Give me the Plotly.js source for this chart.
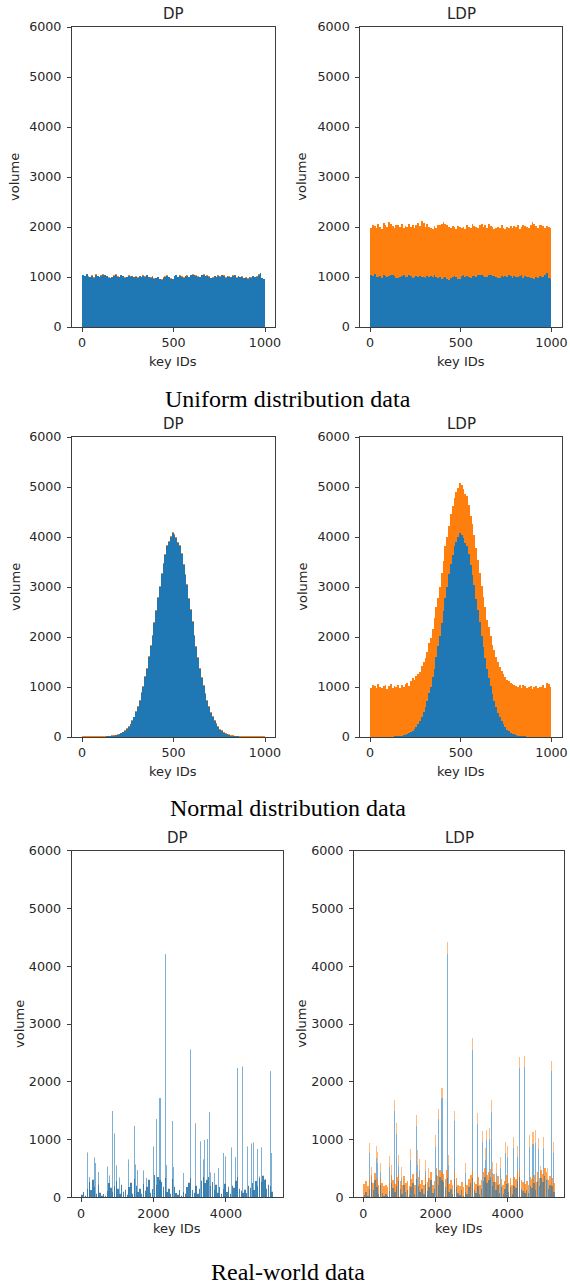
<!DOCTYPE html>
<html>
<head>
<meta charset="utf-8">
<script src="https://cdn.plot.ly/plotly-3.0.1.min.js"></script>
<style>
html,body{margin:0;padding:0;background:#fff;}
#chart{width:570px;height:1284px;}
.point path { shape-rendering: crispEdges; }
</style>
</head>
<body>
<div id="chart"></div>
<script>
// ---------------- DATA ----------------
// Uniform / Normal data: key IDs 0..999 grouped in bins of 10 keys
const binCount = 100;
const binSize = 10;

const uniformTrue = [1040,1020,1060,1010,1000,1030,990,1050,1020,1000,
 1030,1050,1040,1020,990,980,1000,1030,1050,1010,
 1000,1040,1020,990,1000,1030,1010,1020,1000,1010,
 990,1020,1000,1030,1010,1040,1000,990,1010,970,
 980,1000,960,950,990,1010,1030,1000,970,960,
 1020,1040,1000,1030,1010,990,1020,1030,1000,1040,
 1050,1040,1030,1010,1000,1040,1050,1020,1030,1010,
 980,990,1020,1000,1030,1010,1040,1030,990,1020,
 1010,1000,1030,1040,990,1020,1000,1010,980,990,
 970,1000,990,1020,1000,1010,1050,1080,980,960];

const uniformDPNoisy = [1050,1015,1070,1020,995,1045,1000,1055,1030,1010,
 1040,1055,1050,1030,1000,990,1010,1040,1055,1020,
 1005,1050,1030,1000,1010,1040,1015,1030,1010,1020,
 1000,1030,1005,1040,1020,1045,1010,1000,1020,980,
 990,1010,970,960,1000,1020,1040,1010,980,970,
 1030,1045,1010,1040,1020,1000,1030,1040,1010,1050,
 1060,1045,1040,1020,1010,1050,1055,1030,1040,1020,
 990,1000,1030,1010,1040,1020,1050,1040,1000,1030,
 1020,1010,1040,1050,1000,1030,1010,1020,990,1000,
 980,1010,1000,1030,1010,1020,1060,1090,990,970];

const uniformLDPNoisy = [1980,2050,2030,1990,2070,2010,1960,2080,2040,2000,
 2100,2060,2020,1980,2050,2040,2000,2070,1990,2030,
 2010,2060,2000,2040,1980,2050,2090,2020,2130,2080,
 2010,2060,2000,1990,1970,2030,1980,2050,2040,2070,
 2110,2060,2040,2000,1990,2020,2000,1960,2030,2010,
 1980,2000,1960,2040,2010,1990,2060,2030,2000,1980,
 2050,2070,2000,2040,1990,2060,2030,2000,1970,1990,
 2010,1980,2040,1990,1960,2000,1990,2020,1990,2030,
 2000,2040,1970,2010,2050,2020,2000,1990,2040,2100,
 2060,2020,1990,2040,2050,2020,1980,2030,2000,1990];

const normalTrue = [2,3,1,4,2,5,3,4,6,5,
 7,8,10,12,14,18,22,27,35,45,
 55,72,95,125,160,205,255,330,400,500,
 610,720,880,1010,1200,1370,1600,1820,2030,2280,
 2520,2790,3010,3260,3470,3640,3820,3910,4000,4080,
 4050,3990,3880,3820,3660,3450,3240,3040,2760,2540,
 2300,2020,1800,1580,1360,1180,1020,860,730,600,
 490,410,320,260,200,150,120,90,70,52,
 40,30,24,18,14,11,9,7,6,5,
 4,5,3,2,4,3,2,3,1,2];

const normalDPNoisy = [18,22,15,20,24,17,21,19,23,16,
 22,20,25,24,26,30,35,40,48,60,
 70,85,110,140,175,220,270,345,410,520,
 625,735,900,1025,1215,1385,1620,1840,2045,2300,
 2540,2810,3030,3275,3490,3660,3840,3930,4020,4095,
 4070,4010,3900,3840,3675,3470,3255,3060,2775,2555,
 2320,2035,1815,1600,1375,1195,1040,875,745,615,
 505,420,335,275,215,165,135,105,85,66,
 55,44,38,30,26,24,22,25,20,18,
 23,19,21,24,17,22,20,18,23,19];

const normalLDPNoisy = [980,1050,1020,990,1060,1000,980,1030,1040,970,
 1020,1060,990,1030,1000,1050,980,1040,1010,1060,
 1080,1030,1120,1180,1150,1230,1260,1310,1420,1510,
 1590,1700,1880,1990,2170,2390,2600,2780,3010,3290,
 3520,3820,4000,4220,4470,4620,4780,4900,4990,5080,
 5040,4960,4870,4830,4650,4430,4260,4050,3790,3540,
 3290,3020,2800,2600,2350,2200,2030,1840,1740,1610,
 1500,1400,1330,1270,1200,1150,1120,1080,1070,1040,
 1030,1000,1050,990,1040,1020,980,1010,1030,970,
 1000,1020,990,1010,1000,1040,980,1090,1060,1000];

// Real-world data: dense low-volume base (bins of 50 keys) + individual spikes
const realBaseCount = 106;
const realBaseSize = 50;
const realBaseTrue = [40,90,20,150,260,120,300,180,60,210,
 80,30,50,20,110,240,160,90,200,280,
 150,60,220,90,130,40,170,250,60,310,
 200,90,150,60,230,110,180,300,70,140,
 380,220,350,300,260,180,330,90,150,60,
 310,180,70,40,120,30,90,60,170,250,
 330,120,80,200,60,150,280,360,240,300,
 350,190,260,120,220,80,170,60,140,230,
 90,180,60,200,160,290,360,150,110,80,
 130,70,200,160,240,120,280,190,330,260,
 370,300,150,220,190,90];
const realBaseDP = [55,100,35,160,270,135,310,195,70,225,
 95,40,60,35,120,250,175,100,215,290,
 160,75,230,105,140,55,180,265,70,320,
 215,100,160,75,240,125,190,310,85,150,
 390,235,360,315,270,190,345,100,165,70,
 320,195,80,55,130,45,100,75,180,260,
 345,130,95,210,75,160,295,370,255,310,
 360,205,270,135,230,95,180,75,150,245,
 100,195,70,210,175,300,370,165,120,95,
 145,80,215,170,255,130,290,205,340,275,
 380,315,160,235,200,105];
const realBaseLDP = [230,280,200,310,390,250,420,320,210,360,
 240,190,220,180,270,380,300,230,350,420,
 290,210,370,240,280,190,320,400,220,440,
 350,230,300,210,380,260,330,440,220,290,
 510,370,480,440,400,320,470,230,300,210,
 450,330,220,190,270,180,240,210,320,390,
 470,270,230,350,210,300,430,500,380,440,
 490,340,410,270,370,230,320,210,290,380,
 240,330,210,350,310,430,490,300,260,230,
 280,220,350,310,390,270,430,340,470,400,
 510,440,300,370,340,240];

const realSpikeKeys = [175,230,368,395,478,726,782,874,920,975,
 1050,1306,1471,1490,1554,1720,1793,1995,2087,2179,
 2326,2363,2520,2538,2823,3016,3163,3310,3375,3411,
 3503,3540,3577,3697,3788,3926,3991,4147,4257,4331,
 4469,4607,4699,4772,4864,4920,4993,5103,5223,5269];
const realSpikeTrue = [770,350,684,590,430,529,368,1489,1103,540,
 340,644,1230,557,471,460,328,868,1351,1718,
 4207,557,1316,517,414,2557,1270,960,644,989,
 1006,1477,425,414,500,759,701,862,690,2236,
 2259,874,931,948,828,356,856,310,2184,759];
const realSpikeDP = [785,360,700,600,445,540,380,1500,1110,555,
 350,655,1240,570,480,470,340,880,1360,1725,
 4215,565,1325,530,425,2565,1280,970,655,1000,
 1015,1485,435,425,510,770,710,870,700,2245,
 2268,885,940,955,840,365,865,320,2195,770];
const realSpikeLDP = [948,520,890,780,600,720,560,1678,1293,730,
 520,830,1420,815,660,640,510,1075,1534,1890,
 4420,740,1494,720,600,2753,1460,1150,860,1172,
 1200,1678,610,590,690,954,880,1046,880,2425,
 2443,1086,1132,1160,1029,540,1046,500,2368,960];

const yTicks = [0,1000,2000,3000,4000,5000,6000];
const xTicksSmall = [0,500,1000];
const xTicksReal = [0,2000,4000];
const panelTitles = ['DP','LDP','DP','LDP','DP','LDP'];
const captions = ['Uniform distribution data','Normal distribution data','Real-world data'];
const xLabel = 'key IDs';
const yLabel = 'volume';

// ---------------- BUILD ----------------
const W = 570, H = 1284;
const BLUE = '#1f77b4', ORANGE = '#ff7f0e';
const BLUE_SPIKE = '#7eb0d6', ORANGE_SPIKE = '#ffbb80';

const binKeys = Array.from({length: binCount}, (_, i) => i * binSize + binSize / 2);
const realBaseKeys = Array.from({length: realBaseCount}, (_, i) => i * realBaseSize + realBaseSize / 2);

const panels = [
  {l:72, r:274.7, t:27, b:327, xr:[-55,1053], xt:xTicksSmall},
  {l:360.3, r:562, t:27, b:327, xr:[-54,1058], xt:xTicksSmall},
  {l:72, r:274.7, t:437, b:737, xr:[-55,1053], xt:xTicksSmall},
  {l:360.3, r:562, t:437, b:737, xr:[-54,1058], xt:xTicksSmall},
  {l:71.7, r:282.7, t:850.7, b:1197.3, xr:[-258,5566], xt:xTicksReal},
  {l:354, r:564.3, t:850.7, b:1197.3, xr:[-258,5566], xt:xTicksReal}
];

const FONT = 'DejaVu Sans';
const TXT = '#262626';
const LINE = '#3d3d3d';

const layout = {
  width: W, height: H,
  margin: {l:0, r:0, t:0, b:0},
  paper_bgcolor: '#ffffff', plot_bgcolor: '#ffffff',
  showlegend: false,
  barmode: 'overlay',
  annotations: [],
  font: {family: FONT, color: TXT}
};

panels.forEach((p, i) => {
  const n = i === 0 ? '' : String(i + 1);
  const tickSize = 12.7;
  layout['xaxis' + n] = {
    domain: [p.l / W, p.r / W], anchor: 'y' + n, range: p.xr,
    tickmode: 'array', tickvals: p.xt, ticktext: p.xt.map(String),
    showline: true, mirror: true, linecolor: LINE, linewidth: 1,
    ticks: 'outside', ticklen: 4, tickwidth: 1, tickcolor: LINE,
    tickfont: {family: FONT, size: tickSize, color: TXT},
    showgrid: false, zeroline: false, fixedrange: true
  };
  layout['yaxis' + n] = {
    domain: [1 - p.b / H, 1 - p.t / H], anchor: 'x' + n, range: [0, 6000],
    tickmode: 'array', tickvals: yTicks, ticktext: yTicks.map(String),
    showline: true, mirror: true, linecolor: LINE, linewidth: 1,
    ticks: 'outside', ticklen: 4, tickwidth: 1, tickcolor: LINE,
    ticklabelstandoff: 3,
    tickfont: {family: FONT, size: tickSize, color: TXT},
    showgrid: false, zeroline: false, fixedrange: true
  };
  const cx = (p.l + p.r) / 2;
  const cy = (p.t + p.b) / 2;
  layout.annotations.push({
    text: panelTitles[i], xref: 'paper', yref: 'paper',
    x: cx / W, y: 1 - (p.t - 13) / H, xanchor: 'center', yanchor: 'middle',
    showarrow: false, font: {family: FONT, size: 15, color: TXT}
  });
  layout.annotations.push({
    text: xLabel, xref: 'paper', yref: 'paper',
    x: cx / W, y: 1 - (p.b + (i >= 4 ? 31.5 : 34.5)) / H, xanchor: 'center', yanchor: 'middle',
    showarrow: false, font: {family: FONT, size: 13, color: TXT}
  });
  layout.annotations.push({
    text: yLabel, xref: 'paper', yref: 'paper', textangle: -90,
    x: (p.l - (i % 2 === 0 ? (i >= 4 ? 52.7 : 57) : (i >= 4 ? 53.3 : 58.6))) / W, y: 1 - cy / H,
    xanchor: 'center', yanchor: 'middle',
    showarrow: false, font: {family: FONT, size: 13, color: TXT}
  });
});

const captionY = [399, 808, 1272];
captions.forEach((c, i) => {
  layout.annotations.push({
    text: c, xref: 'paper', yref: 'paper', x: 288 / W, y: 1 - captionY[i] / H,
    xanchor: 'center', yanchor: 'middle', showarrow: false,
    font: {family: 'Liberation Serif', size: 24, color: '#000'}
  });
});

function bar(x, y, color, ax, w) {
  return {type: 'bar', x: x, y: y, width: w, xaxis: 'x' + ax, yaxis: 'y' + ax,
    marker: {color: color, line: {width: 0}}, hoverinfo: 'skip'};
}

const data = [
  bar(binKeys, uniformDPNoisy, ORANGE, '', binSize),
  bar(binKeys, uniformTrue, BLUE, '', binSize),
  bar(binKeys, uniformLDPNoisy, ORANGE, '2', binSize),
  bar(binKeys, uniformTrue, BLUE, '2', binSize),
  bar(binKeys, normalDPNoisy, ORANGE, '3', binSize),
  bar(binKeys, normalTrue, BLUE, '3', binSize),
  bar(binKeys, normalLDPNoisy, ORANGE, '4', binSize),
  bar(binKeys, normalTrue, BLUE, '4', binSize),
  // real-world DP
  bar(realSpikeKeys, realSpikeDP, ORANGE_SPIKE, '5', 28),
  bar(realSpikeKeys, realSpikeTrue, BLUE_SPIKE, '5', 28),
  bar(realBaseKeys, realBaseDP, 'rgba(255,127,14,0.35)', '5', 38),
  bar(realBaseKeys, realBaseTrue, 'rgba(31,119,180,0.85)', '5', 38),
  // real-world LDP
  bar(realSpikeKeys, realSpikeLDP, ORANGE_SPIKE, '6', 28),
  bar(realSpikeKeys, realSpikeTrue, BLUE_SPIKE, '6', 28),
  bar(realBaseKeys, realBaseLDP, 'rgba(255,127,14,0.75)', '6', 44),
  bar(realBaseKeys, realBaseTrue, 'rgba(31,119,180,0.6)', '6', 40)
];

Plotly.newPlot('chart', data, layout, {staticPlot: true, displayModeBar: false});
</script>
</body>
</html>
